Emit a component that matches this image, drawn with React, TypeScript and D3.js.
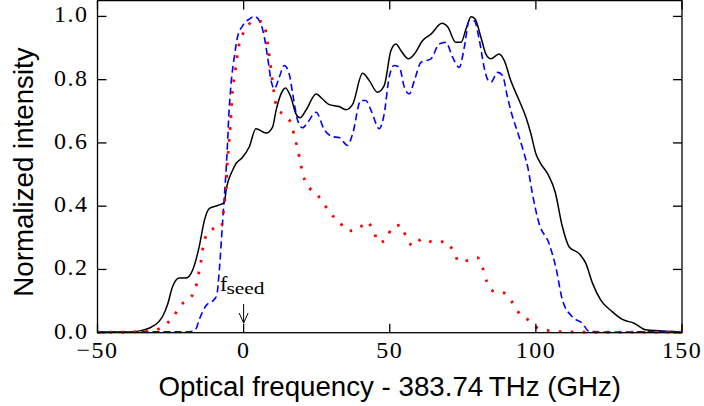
import React from "react";
import * as d3 from "d3";

const blackX = [-50,-40,-36,-32.2,-29,-27.7,-26,-24.3,-22,-19.7,-17.4,-15.2,-13.4,-11.7,-8.3,-6.6,-6.0,-3.8,-2.6,-0.5,1.9,4.2,7.7,9.9,11.1,12.8,14.3,16.2,17.9,19.3,21.3,24.8,27,29.3,32.7,35,37.3,40.7,43,45.8,48.1,50.4,52.1,53.8,56.4,58.4,61.2,64.1,67.9,69.8,72.6,74.4,76.1,77.8,79.2,81.2,82.9,84.6,87.4,89.2,91.4,94.3,96.6,98.3,100,101.5,104.3,106.6,109.1,111.4,114.8,117.1,119.4,122.2,126.2,129.6,133.6,137.6,142.2,146.7,150];
const blackY = [0.002,0.002,0.005,0.015,0.035,0.052,0.09,0.146,0.173,0.173,0.199,0.272,0.356,0.393,0.404,0.412,0.45,0.513,0.535,0.553,0.587,0.645,0.631,0.65,0.703,0.755,0.774,0.744,0.692,0.68,0.703,0.755,0.739,0.721,0.715,0.705,0.722,0.82,0.797,0.76,0.781,0.892,0.913,0.892,0.866,0.881,0.923,0.944,0.978,0.967,0.918,0.918,0.96,0.999,0.992,0.934,0.881,0.866,0.881,0.86,0.797,0.734,0.681,0.629,0.566,0.537,0.498,0.445,0.334,0.271,0.25,0.219,0.156,0.103,0.066,0.042,0.03,0.009,0.006,0.004,0.002];

const blueX = [-50,-30,-20,-17.4,-16.3,-15.2,-12.9,-10,-9.2,-8.3,-7.2,-6.6,-6.1,-5.6,-5.1,-4.3,-3.2,-2.1,-0.3,2,3.7,5.4,7.1,8.2,9.4,10.5,12.2,13.9,15.6,16.8,18.5,20.2,21.9,24.8,27.6,30.4,32.7,35.6,37.3,40.1,41.8,43.6,46.4,48.1,49.8,51.5,53.3,55,56.7,58.4,60.7,64.1,66.9,69.2,71.5,73.8,75.5,77.2,78.9,80.6,82.3,83.5,84.6,86.9,88.6,90.3,91.4,94.3,96,97.3,98.8,101.1,104.5,106.8,109.1,112.5,115.9,118.2,125,140,145,150];
const blueY = [0.003,0.003,0.003,0.005,0.012,0.041,0.085,0.106,0.118,0.2,0.35,0.43,0.5,0.58,0.681,0.787,0.871,0.934,0.971,0.992,1.0,0.986,0.934,0.871,0.797,0.771,0.808,0.845,0.818,0.755,0.671,0.648,0.665,0.697,0.642,0.62,0.617,0.592,0.629,0.734,0.734,0.703,0.645,0.692,0.808,0.845,0.839,0.776,0.755,0.797,0.855,0.866,0.913,0.918,0.871,0.839,0.902,0.986,0.986,0.928,0.839,0.8,0.792,0.823,0.813,0.744,0.703,0.618,0.566,0.52,0.44,0.345,0.282,0.208,0.103,0.05,0.03,0.004,0.002,0.003,0.004,0.002];

const redX = [-50,-40,-36.8,-30.5,-26.5,-23.7,-21.4,-18,-16.3,-15.5,-14.6,-14,-13.1,-10.6,-7.7,-6.6,-6.0,-5.7,-5.1,-4.3,-3.8,-3.2,-2.6,-2.1,-1.2,0.6,3.4,6.3,7.7,8.3,9.4,9.9,10.5,11.3,14,16.5,17.3,18.5,19.3,20.2,21.6,24.8,27.3,29.5,32.7,35.6,39,42.1,44.5,46.2,48.9,50.8,53.8,55.5,58,61.2,65,69.2,71.7,73.8,77,80,81.9,83.2,85.5,89.3,92.1,94.4,97.8,101,105.2,109.6,120,150];
const redY = [0.002,0.002,0.003,0.008,0.027,0.056,0.088,0.112,0.145,0.182,0.224,0.264,0.301,0.328,0.332,0.41,0.461,0.52,0.587,0.687,0.766,0.806,0.845,0.883,0.923,0.957,0.986,0.984,0.946,0.908,0.831,0.792,0.753,0.713,0.687,0.658,0.621,0.582,0.543,0.504,0.468,0.441,0.41,0.379,0.351,0.322,0.326,0.351,0.321,0.285,0.296,0.333,0.34,0.305,0.274,0.298,0.286,0.288,0.259,0.224,0.229,0.237,0.202,0.162,0.131,0.125,0.094,0.06,0.038,0.013,0.006,0.003,0.002,0.002];

const xTicks = [-50, 0, 50, 100, 150];
const xTickLabels = ["\u221250", "0", "50", "100", "150"];
const yTicks = [0, 0.2, 0.4, 0.6, 0.8, 1.0];
const yTickLabels = ["0.0", "0.2", "0.4", "0.6", "0.8", "1.0"];

const W = 704, H = 406;
const L = 97.5, R = 682, T = 0.6, B = 332.7;

export default function App() {
  const x = d3.scaleLinear().domain([-50, 150]).range([L, R]);
  const y = d3.scaleLinear().domain([0, 1.05]).range([B, T]);
  const line = (xs: number[], ys: number[], curve: any) =>
    d3.line<number>().x((_, i) => x(xs[i])).y((_, i) => y(ys[i])).curve(curve)(xs.map((_, i) => i)) || "";
  const tl = 9;
  const serif = "'Liberation Serif', serif";
  const sans = "'Liberation Sans', Arial, sans-serif";
  const x0 = x(0);
  return (
    <svg width={W} height={H} style={{ position: "absolute", left: 0, top: 0, background: "#fff" }}>
      <rect x={0} y={0} width={W} height={H} fill="#fff" />
      <path d={line(blackX, blackY, d3.curveMonotoneX)} fill="none" stroke="#000" strokeWidth={1.5} />
      <path d={line(blueX, blueY, d3.curveMonotoneX)} fill="none" stroke="#0000ff" strokeWidth={1.6} strokeDasharray="7 4" />
      <path d={line(redX, redY, d3.curveMonotoneX)} fill="none" stroke="#ff0000" strokeWidth={2.8} strokeDasharray="2.6 9.4" />
      {/* frame */}
      <rect x={L} y={T} width={R - L} height={B - T} fill="none" stroke="#000" strokeWidth={1.3} />
      {xTicks.map((t, i) => (
        <g key={"x" + i}>
          <line x1={x(t)} x2={x(t)} y1={B} y2={B - tl} stroke="#000" strokeWidth={1.3} />
          <line x1={x(t)} x2={x(t)} y1={T} y2={T + tl} stroke="#000" strokeWidth={1.3} />
          <text x={x(t)} y={358} textAnchor="middle" fontFamily={serif} fontSize={24} letterSpacing={1.5}>{xTickLabels[i]}</text>
        </g>
      ))}
      {yTicks.map((t, i) => (
        <g key={"y" + i}>
          <line x1={L} x2={L + tl} y1={y(t)} y2={y(t)} stroke="#000" strokeWidth={1.3} />
          <line x1={R} x2={R - tl} y1={y(t)} y2={y(t)} stroke="#000" strokeWidth={1.3} />
          <text x={88.5} y={y(t) + 6} textAnchor="end" fontFamily={serif} fontSize={24} letterSpacing={1.5}>{yTickLabels[i]}</text>
        </g>
      ))}
      {/* annotation */}
      <line x1={x0} x2={x0} y1={304} y2={323} stroke="#000" strokeWidth={1} />
      <path d={`M${x0 - 4.5},${313} L${x0},${323} L${x0 + 4.5},${313}`} fill="none" stroke="#000" strokeWidth={1} />
      <text x={220} y={291} fontFamily={serif} fontSize={22}>f</text>
      <text x={226.5} y={293.5} fontFamily={serif} fontSize={17} textLength={38} lengthAdjust="spacingAndGlyphs">seed</text>
      <text x={(L + R) / 2} y={396} textAnchor="middle" fontFamily={sans} fontSize={27.7}>
        Optical frequency - 383.74{"\u2009"}THz (GHz)
      </text>
      <text transform={`translate(33,172) rotate(-90)`} textAnchor="middle" fontFamily={sans} fontSize={27.7}>
        Normalized intensity
      </text>
    </svg>
  );
}
